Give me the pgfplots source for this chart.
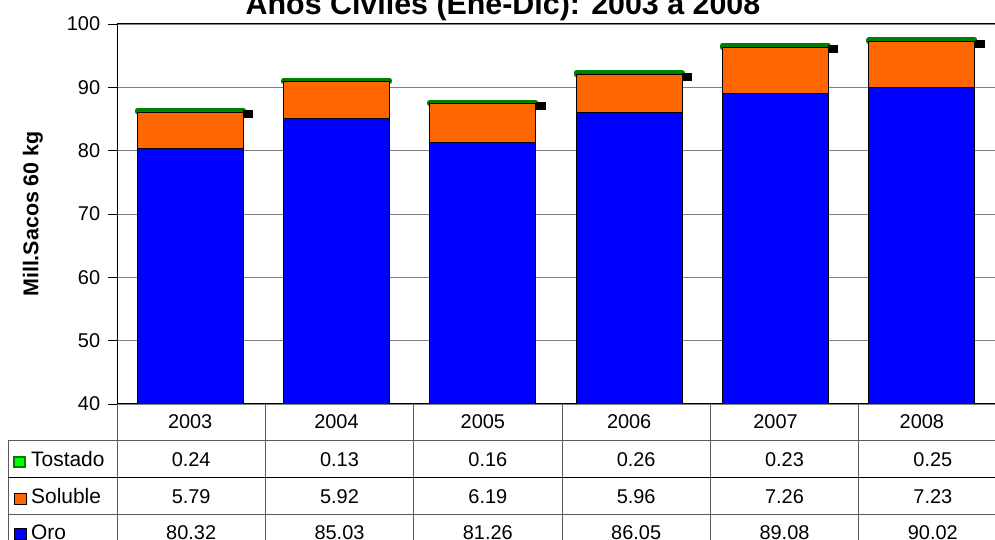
\documentclass[border=0pt]{standalone}
\usepackage{fontspec}
\setmainfont{Liberation Sans}
\usepackage{pgfplots}
\pgfplotsset{compat=1.18}
\definecolor{oro}{RGB}{0,0,255}
\definecolor{soluble}{RGB}{255,102,0}
\definecolor{tostado}{RGB}{0,128,0}
\definecolor{tostadoin}{RGB}{0,255,0}
\definecolor{gridgray}{RGB}{128,128,128}
\definecolor{tabline}{RGB}{90,90,90}
\begin{document}
\fontsize{20}{24}\selectfont
\begin{tikzpicture}[x=1bp,y=1bp]
\useasboundingbox (0,0) rectangle (995,540);
\clip (0,0) rectangle (995,540);
\begin{axis}[
  at={(117bp,136bp)}, anchor=south west,
  scale only axis, width=878bp, height=380bp,
  ybar stacked, bar width=0.724,
  xmin=-0.5, xmax=5.5, ymin=40, ymax=100,
  ytick={40,50,60,70,80,90,100},
  xtick={0,1,2,3,4,5},
  xticklabels={2003,2004,2005,2006,2007,2008},
  xtick style={draw=none},
  xticklabel style={anchor=center, yshift=-9bp, font=\fontsize{20}{24}\selectfont},
  yticklabel style={anchor=east, xshift=-1bp, font=\fontsize{20}{24}\selectfont},
  /pgf/number format/assume math mode=true,
  tick align=outside, ytick pos=left,
  major tick length=9bp,
  ytick style={black, line width=0.75bp},
  ymajorgrids, major grid style={gridgray, line width=0.9bp},
  axis line style={black, line width=1bp},
  ylabel={\bfseries Mill.Sacos 60 kg},
  every axis y label/.style={at={(axis description cs:0,0.5)}, xshift=-84bp, rotate=90, anchor=center, font=\fontsize{21.5}{25}\selectfont},
]
\addplot[fill=oro, draw=black, line width=0.75bp] coordinates {(0,80.32)(1,85.03)(2,81.26)(3,86.05)(4,89.08)(5,90.02)};
\addplot[fill=soluble, draw=black, line width=0.75bp] coordinates {(0,5.79)(1,5.92)(2,6.19)(3,5.96)(4,7.26)(5,7.23)};
\addplot[fill=tostado, draw=tostado, line width=5bp, line join=round] coordinates {(0,0.24)(1,0.13)(2,0.16)(3,0.26)(4,0.23)(5,0.25)};
\end{axis}
\begin{axis}[
  at={(117bp,136bp)}, anchor=south west,
  scale only axis, width=878bp, height=380bp,
  xmin=-0.5, xmax=5.5, ymin=40, ymax=100, hide axis,
]
\addplot[only marks, mark=square*, mark size=3.5bp, mark options={xscale=1.3, draw=black, fill=black}]
  coordinates {(0.393,85.80)(2.393,87.06)(3.393,91.72)(4.393,96.02)(5.393,96.95)};
\end{axis}
% data table
\foreach \k in {0,...,6} {\draw[tabline, line width=1bp] ({117+148.333*\k},136) -- ({117+148.333*\k},0);}
\draw[tabline, line width=1bp] (8,99) -- (8,0);
\draw[tabline, line width=1bp] (8,99) -- (995,99);
\draw[black, line width=1bp] (8,62) -- (995,62);
\draw[tabline, line width=1bp] (8,25) -- (995,25);
% legend keys
\draw[fill=tostadoin, draw=tostado, line width=2.2bp] (14,73) rectangle (25,83);
\node[anchor=west, inner sep=0pt, font=\fontsize{21}{25}\selectfont] at (31,80.5) {Tostado};
\draw[fill=soluble, draw=black, line width=0.75bp] (14,36) rectangle (26,47);
\node[anchor=west, inner sep=0pt, font=\fontsize{21}{25}\selectfont] at (31,43.5) {Soluble};
\draw[fill=oro, draw=black, line width=0.75bp] (14,1) rectangle (26,12);
\node[anchor=west, inner sep=0pt, font=\fontsize{21}{25}\selectfont] at (31,7.5) {Oro};
% values
\foreach \v [count=\i from 0] in {0.24,0.13,0.16,0.26,0.23,0.25} {\node at ({191.17+148.333*\i},80.5) {\v};}
\foreach \v [count=\i from 0] in {5.79,5.92,6.19,5.96,7.26,7.23} {\node at ({191.17+148.333*\i},43.5) {\v};}
\foreach \v [count=\i from 0] in {80.32,85.03,81.26,86.05,89.08,90.02} {\node at ({191.17+148.333*\i},7.5) {\v};}
% title (cut off at top as in the reference)
\node[anchor=base, inner sep=0pt, font=\bfseries\fontsize{30.5}{36}\selectfont] at (503,525) {Años Civiles (Ene-Dic): 2003 a 2008};
\end{tikzpicture}
\end{document}
